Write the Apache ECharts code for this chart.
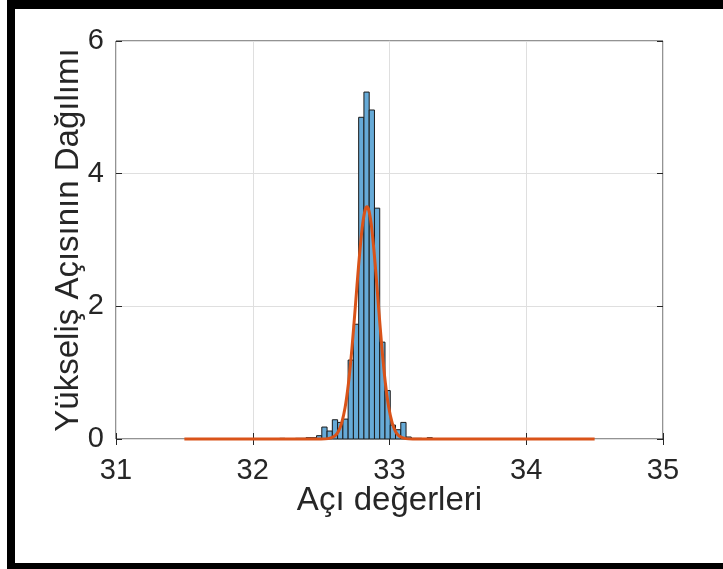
<!DOCTYPE html>
<html>
<head>
<meta charset="utf-8">
<script src="https://cdn.jsdelivr.net/npm/echarts@6/dist/echarts.min.js"></script>
<style>
  html, body { margin: 0; padding: 0; background: #fff; }
  #chart { width: 723px; height: 569px; }
</style>
</head>
<body>
<div id="chart"></div>
<script>
// histogram bins (pdf normalised), left edge of first bin + width
const binStart = 32.197;
const binWidth = 0.0385;
const binHeights = [0.01, 0, 0, 0.01, 0.01, 0.02, 0.02, 0.05, 0.18, 0.12, 0.29, 0.25, 0.30,
  1.19, 1.73, 4.85, 5.23, 4.96, 3.48, 1.46, 0.73, 0.21, 0.14, 0.25, 0.03, 0.01, 0.01, 0, 0.02];

// fitted normal curve
const fitX = [31.5, 32.4, 32.5, 32.55, 32.6, 32.625, 32.65, 32.675, 32.7, 32.725, 32.75, 32.775,
  32.8, 32.82, 32.835, 32.85, 32.87, 32.895, 32.92, 32.945, 32.97, 32.995, 33.02, 33.045,
  33.07, 33.12, 33.17, 33.3, 34.5];
const fitY = [0, 0, 0, 0.006, 0.047, 0.11, 0.24, 0.47, 0.84, 1.36, 1.99, 2.64,
  3.18, 3.44, 3.5, 3.44, 3.18, 2.64, 1.99, 1.36, 0.84, 0.47, 0.24, 0.11,
  0.047, 0.006, 0, 0, 0];

const xTicks = [31, 32, 33, 34, 35];
const yTicks = [0, 2, 4, 6];

const xLabel = 'Açı değerleri';
const yLabel = 'Yükseliş Açısının Dağılımı';

let bins = [];
binHeights.forEach(function (h, i) {
  if (h > 0) bins.push([binStart + i * binWidth, binStart + (i + 1) * binWidth, h]);
});
let fit = fitX.map(function (x, i) { return [x, fitY[i]]; });

const txt = '#262626';
const font = '"Liberation Sans", Arial, Helvetica, sans-serif';

let chart = echarts.init(document.getElementById('chart'));

let option = {
  backgroundColor: '#fff',
  animation: false,
  grid: {
    left: 116, right: 60, top: 41, bottom: 130,
    show: true, borderColor: '#262626', borderWidth: 1
  },
  xAxis: [{
    type: 'value',
    min: xTicks[0], max: xTicks[xTicks.length - 1], interval: 1,
    name: xLabel, nameLocation: 'middle', nameGap: 45, nameMoveOverlap: false,
    nameTextStyle: { color: txt, fontSize: 33, fontFamily: font },
    axisLine: { show: false },
    axisTick: { inside: true, length: 6, lineStyle: { color: '#262626' } },
    axisLabel: { color: txt, fontSize: 29, fontFamily: font, margin: 17 },
    splitLine: { lineStyle: { color: '#dfdfdf', width: 1 } }
  }, {
    type: 'value', position: 'top',
    min: xTicks[0], max: xTicks[xTicks.length - 1], interval: 1,
    axisLine: { show: false },
    axisTick: { inside: true, length: 6, lineStyle: { color: '#262626' } },
    axisLabel: { show: false },
    splitLine: { show: false }
  }],
  yAxis: [{
    type: 'value',
    min: yTicks[0], max: yTicks[yTicks.length - 1], interval: 2,
    name: yLabel, nameLocation: 'middle', nameGap: 31, nameMoveOverlap: false,
    nameTextStyle: { color: txt, fontSize: 33, fontFamily: font },
    axisLine: { show: false },
    axisTick: { inside: true, length: 6, lineStyle: { color: '#262626' } },
    axisLabel: { color: txt, fontSize: 29, fontFamily: font, margin: 12 },
    splitLine: { lineStyle: { color: '#dfdfdf', width: 1 } }
  }, {
    type: 'value', position: 'right',
    min: yTicks[0], max: yTicks[yTicks.length - 1], interval: 2,
    axisLine: { show: false },
    axisTick: { inside: true, length: 6, lineStyle: { color: '#262626' } },
    axisLabel: { show: false },
    splitLine: { show: false }
  }],
  series: [{
    type: 'custom',
    data: bins,
    encode: { x: [0, 1], y: 2 },
    renderItem: function (params, api) {
      let p0 = api.coord([api.value(0), api.value(2)]);
      let p1 = api.coord([api.value(1), 0]);
      return {
        type: 'rect',
        shape: { x: p0[0], y: p0[1], width: p1[0] - p0[0], height: p1[1] - p0[1] },
        style: { fill: '#66AAD7', stroke: '#1a1a1a', lineWidth: 1 }
      };
    },
    z: 2
  }, {
    type: 'line',
    data: fit,
    showSymbol: false,
    smooth: 0.3,
    clip: false,
    lineStyle: { color: '#D95319', width: 3 },
    z: 3
  }],
  graphic: [
    { type: 'rect', shape: { x: 7, y: 0, width: 8, height: 569 }, style: { fill: '#000' } },
    { type: 'rect', shape: { x: 7, y: 0, width: 716, height: 9 }, style: { fill: '#000' } },
    { type: 'rect', shape: { x: 7, y: 563, width: 716, height: 6 }, style: { fill: '#000' } }
  ]
};

chart.setOption(option);
</script>
</body>
</html>
